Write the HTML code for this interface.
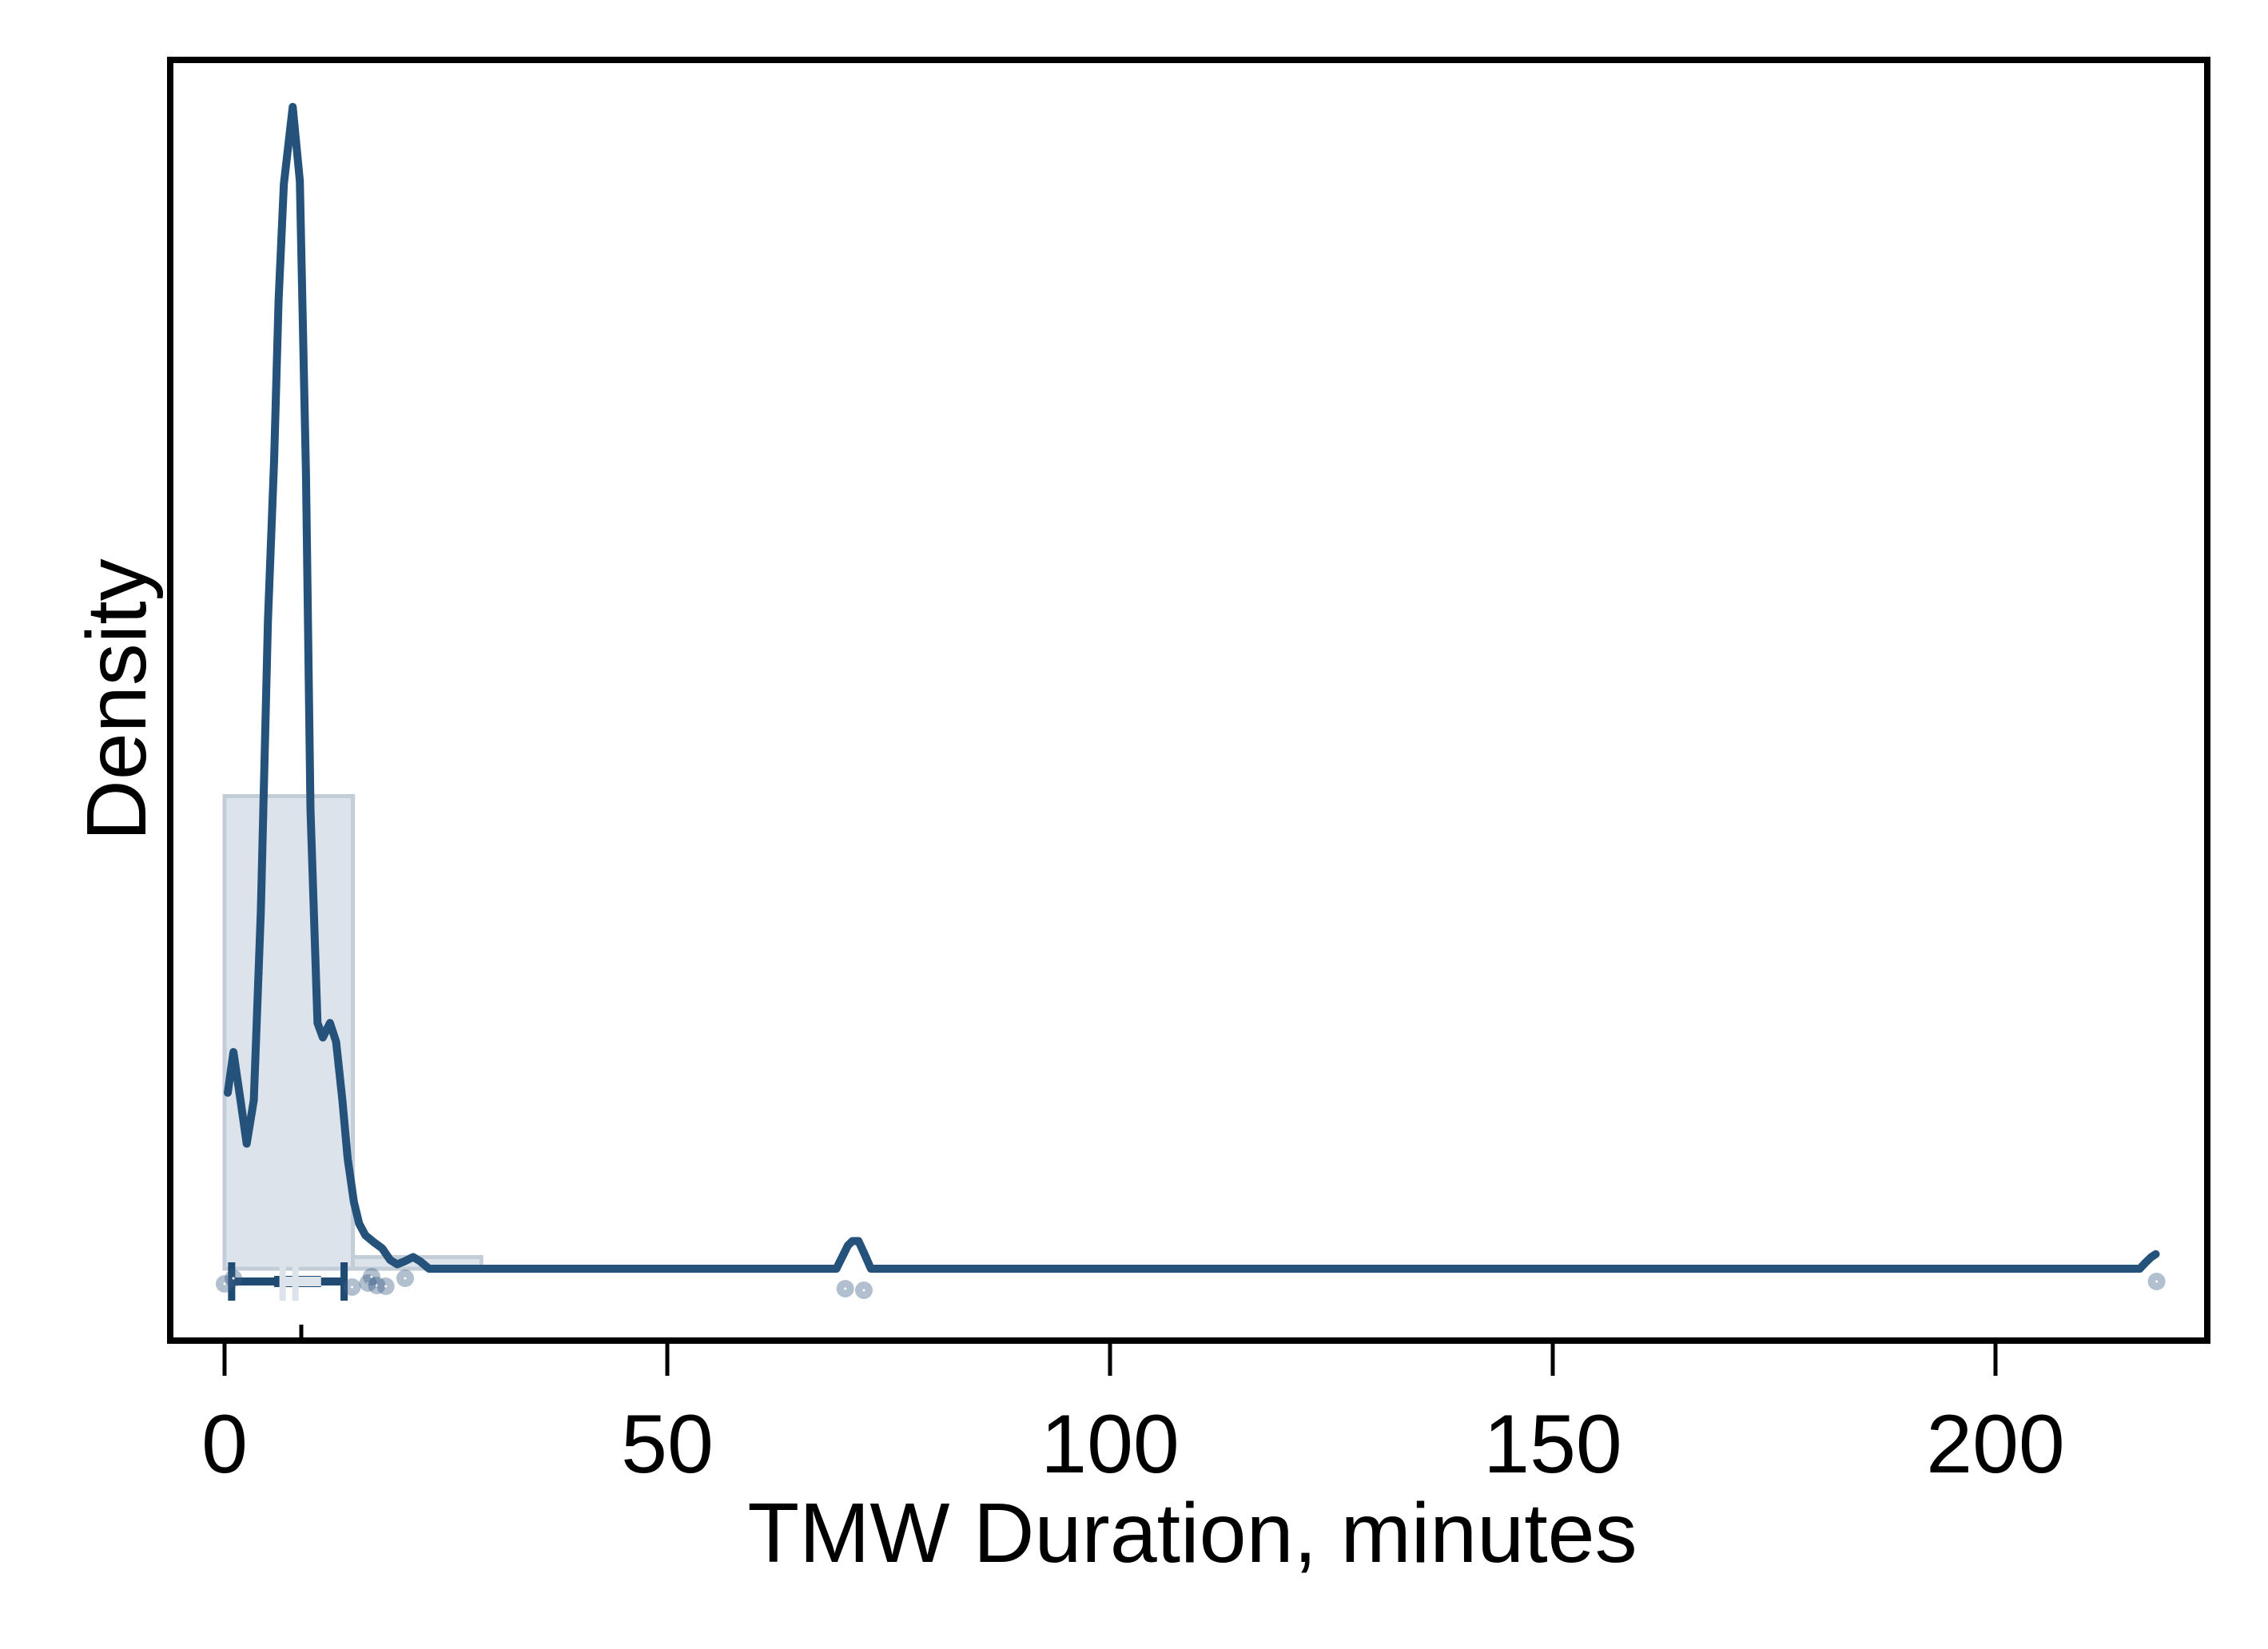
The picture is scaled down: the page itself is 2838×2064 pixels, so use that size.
<!DOCTYPE html>
<html><head><meta charset="utf-8"><style>
body{margin:0;background:#fff}
svg{display:block;font-family:"Liberation Sans",Arial,sans-serif}
</style></head><body>
<svg id="chart" width="2838" height="2064" viewBox="0 0 2838 2064">
<rect width="2838" height="2064" fill="#fff"/>
<g id="hist"></g>
<g id="box"></g>
<g id="pts"></g>
<path id="dens" fill="none" stroke="#24527a" stroke-width="10" stroke-linejoin="round" stroke-linecap="round"/>
<rect x="213" y="75" width="2549" height="1603" fill="none" stroke="#000" stroke-width="8"/>
<line x1="377" y1="1658" x2="377" y2="1678" stroke="#000" stroke-width="5"/>
<g id="xaxis"></g>
<text x="1492" y="1955" font-size="106" text-anchor="middle">TMW Duration, minutes</text>
<text transform="translate(182,876) rotate(-90)" font-size="106" text-anchor="middle">Density</text>
</svg>
<script>
const xTicks=[0,50,100,150,200];
const densX=[0.36,1.0,1.8,2.5,3.3,4.1,4.9,5.6,6.1,6.7,7.7,8.5,9.2,9.7,10.5,11.1,11.9,12.6,13.3,13.9,14.6,15.2,15.9,16.9,17.8,18.7,19.5,20.3,21.3,22.1,23.1,23.9,69.1,70.4,70.9,71.6,72.2,73.0,216.3,216.9,217.6,218.1];
const densY=[121,149,116,86,116,246,446,556,666,746,799,748,546,316,169,159,169,156,116,76,46,31,23,18,14,6,3,5,8,5,0,0,0,16,19,19,11,0,0,4,8,10];
const binEdges=[0,14.5,29];
const binHeights=[325,8];
const pointX=[0,1,14.4,16.2,16.6,17.2,18.2,20.4,70.1,72.2,218.2];
const pointJitter=[3,-4,7,2,-6,5,6,-4,9,11,0];
const boxStats=[0.8,5.6,8,10.9,13.5];
const NS="http://www.w3.org/2000/svg";
const X=v=>281+v*11.08;
const Y=v=>1588-v*1.82;
function mk(t,a,p){const e=document.createElementNS(NS,t);for(const k in a)e.setAttribute(k,a[k]);p.appendChild(e);return e;}
const hist=document.getElementById('hist');
binHeights.forEach((h,i)=>{
 const r=mk('rect',{x:X(binEdges[i]),y:Y(h),width:X(binEdges[i+1])-X(binEdges[i]),height:Y(0)-Y(h),fill:'#dde3ea',stroke:'#c3cdd8','stroke-width':5},hist);
 
 
});
let d='';densX.forEach((x,i)=>{d+=(i?'L':'M')+X(x).toFixed(1)+' '+Y(densY[i]).toFixed(1);});
document.getElementById('dens').setAttribute('d',d);
const box=document.getElementById('box');const by=1604;
const bl=mk('line',{x1:X(boxStats[0]),y1:by,x2:X(boxStats[4]),y2:by,stroke:'#1f4a72','stroke-width':10},box);

const b1=mk('rect',{x:X(boxStats[1]),y:by-7,width:X(boxStats[3])-X(boxStats[1]),height:14,fill:'#1f4a72'},box);

const b2=mk('rect',{x:X(boxStats[1])+14,y:by-6,width:X(boxStats[3])-X(boxStats[1])-14,height:12,fill:'#dde3ea'},box);

[X(boxStats[2])-16,X(boxStats[2])].forEach(x=>{const l=mk('rect',{x:x-4,y:by-24,width:8,height:48,fill:'#dde3ea'},box);
 });
[boxStats[0],boxStats[4]].forEach(v=>{const c=mk('rect',{x:X(v)-4.5,y:by-24,width:9,height:48,fill:'#1f4a72'},box);
 });
const pts=document.getElementById('pts');
pointX.forEach((v,i)=>{
 const c=mk('circle',{cx:X(v),cy:1604+pointJitter[i],r:11,fill:'rgba(60,95,135,0.4)'},pts);
 
 
 mk('circle',{cx:X(v),cy:1604+pointJitter[i],r:1.5,fill:'#fff'},pts);
});
const ax=document.getElementById('xaxis');
xTicks.forEach(t=>{
 const l=mk('line',{x1:X(t),y1:1682,x2:X(t),y2:1722,stroke:'#000','stroke-width':5},ax);
 
 const tx=mk('text',{x:X(t),y:1843,'font-size':104,'text-anchor':'middle'},ax);
 tx.textContent=t;
 
});
</script>
</body></html>
